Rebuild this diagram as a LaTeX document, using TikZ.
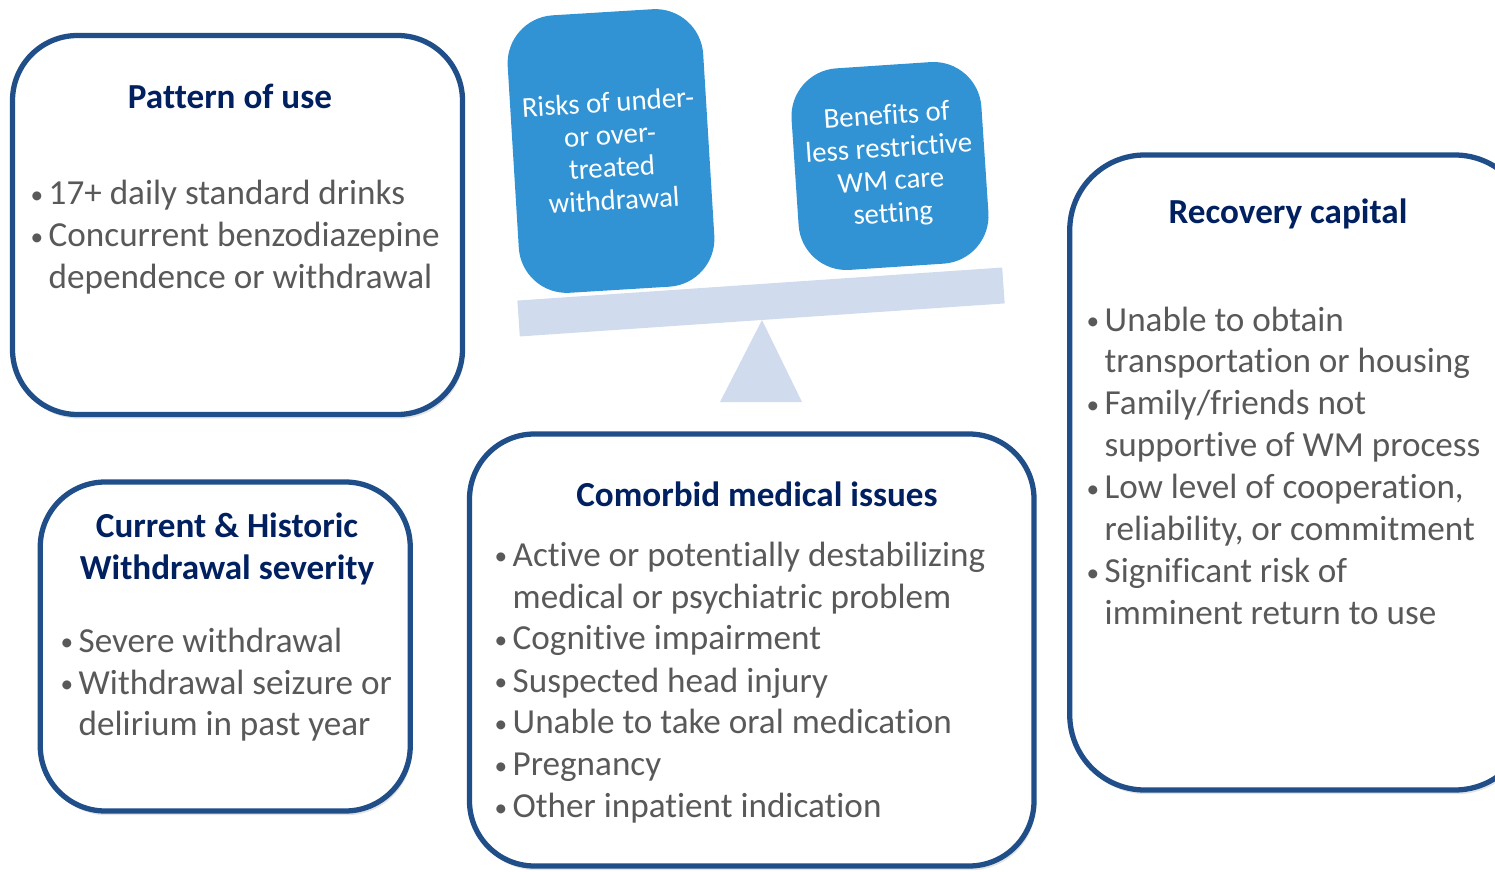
\documentclass[tikz,border=0pt]{standalone}
\usepackage{fontspec}
\setmainfont{Carlito}[Ligatures=NoCommon]
\usetikzlibrary{shadows}

\definecolor{boxline}{HTML}{1F4E89}
\definecolor{headnavy}{HTML}{002060}
\definecolor{bodygray}{HTML}{595959}
\definecolor{panblue}{HTML}{3193D4}
\definecolor{beamblue}{HTML}{D0DCEE}

% bullet and hanging indent for the item lists
\newcommand{\bul}{\makebox[0.18cm][l]{\raisebox{0.4pt}{\scalebox{0.72}{\textbullet}}}}
\newcommand{\ind}{\hspace*{0.18cm}}

\tikzset{
  factorbox/.style={draw=boxline, line width=1.5pt, fill=white,
    rounded corners=0.65cm,
    drop shadow={opacity=0.22, shadow xshift=0.5pt, shadow yshift=-1.2pt}},
  heading/.style={font=\fontsize{10}{11.95}\selectfont\bfseries,
    text=headnavy, inner sep=0pt, anchor=base},
  itemlist/.style={font=\fontsize{10}{11.95}\selectfont,
    text=bodygray, inner sep=0pt, anchor=base west},
  pan/.style={fill=panblue, rounded corners=0.48cm, text=white,
    align=center, font=\fontsize{8.2}{9.3}\selectfont}
}

\begin{document}
\begin{tikzpicture}

\useasboundingbox (0,0) rectangle (14.95,8.71);

% Factor boxes
\node[factorbox, minimum width=4.50cm, minimum height=3.79cm] (usebox) at (2.375,6.46) {};
\node[factorbox, minimum width=3.70cm, minimum height=3.29cm] (sevbox) at (2.2525,2.245) {};
\node[factorbox, minimum width=5.645cm, minimum height=4.32cm] (medbox) at (7.5175,2.21) {};
\node[factorbox, minimum width=4.60cm, minimum height=6.35cm, rounded corners=0.75cm] (capbox) at (12.9975,3.985) {};

% Balance: beam, pivot and the two pans
\node[fill=beamblue, minimum width=4.86cm, minimum height=0.36cm, inner sep=0pt, rotate=3.9] (beam) at (7.61,5.69) {};
\fill[beamblue] (7.62,5.51) -- (8.02,4.69) -- (7.20,4.69) -- cycle;

\node[pan, minimum width=1.92cm, minimum height=2.78cm, rotate=3.5] (risks) at (6.11,7.20)
    {Risks of under-\\or over-\\treated\\withdrawal};
\node[pan, minimum width=1.90cm, minimum height=2.02cm, rotate=3.8] (benefits) at (8.90,7.05)
    {Benefits of\\less restrictive\\WM care\\setting};

% Pattern of use
\node[heading] (usetitle) at (2.30,7.62) {Pattern of use};
\node[itemlist] (useitems) at (0.30,6.66) {\begin{tabular}[t]{@{}l@{}}
  \bul 17+ daily standard drinks\\
  \bul Concurrent benzodiazepine\\
  \ind dependence or withdrawal
\end{tabular}};

% Withdrawal severity
\node[heading] (sevtitle) at (2.27,3.34) {\begin{tabular}[t]{@{}c@{}}
  Current \& Historic\\ Withdrawal severity\end{tabular}};
\node[itemlist] (sevitems) at (0.60,2.19) {\begin{tabular}[t]{@{}l@{}}
  \bul Severe withdrawal\\
  \bul Withdrawal seizure or\\
  \ind delirium in past year
\end{tabular}};

% Comorbid medical issues
\node[heading] (medtitle) at (7.57,3.65) {Comorbid medical issues};
\node[itemlist] (meditems) at (4.94,3.05) {\begin{tabular}[t]{@{}l@{}}
  \bul Active or potentially destabilizing\\
  \ind medical or psychiatric problem\\
  \bul Cognitive impairment\\
  \bul Suspected head injury\\
  \bul Unable to take oral medication\\
  \bul Pregnancy\\
  \bul Other inpatient indication
\end{tabular}};

% Recovery capital
\node[heading] (captitle) at (12.88,6.47) {Recovery capital};
\node[itemlist] (capitems) at (10.86,5.40) {\begin{tabular}[t]{@{}l@{}}
  \bul Unable to obtain\\
  \ind transportation or housing\\
  \bul Family/friends not\\
  \ind supportive of WM process\\
  \bul Low level of cooperation,\\
  \ind reliability, or commitment\\
  \bul Significant risk of\\
  \ind imminent return to use
\end{tabular}};

\end{tikzpicture}
\end{document}
